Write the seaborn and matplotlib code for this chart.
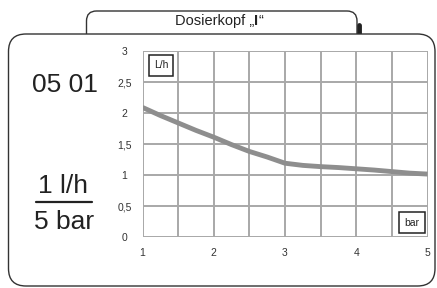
import matplotlib
matplotlib.use("Agg")
import matplotlib.pyplot as plt
import seaborn as sns
import pandas as pd
from matplotlib import font_manager
from matplotlib.patches import FancyBboxPatch, PathPatch
from matplotlib.path import Path
from matplotlib.lines import Line2D

# Data
pressure_bar = [1.0, 1.25, 1.5, 1.75, 2.0, 2.25, 2.5, 2.75, 3.0,
                3.25, 3.5, 3.75, 4.0, 4.25, 4.5, 4.75, 5.0]
flow_lph = [2.09, 1.96, 1.84, 1.72, 1.61, 1.49, 1.38, 1.29, 1.19,
            1.155, 1.135, 1.12, 1.10, 1.08, 1.055, 1.03, 1.015]
x_ticks = [1, 2, 3, 4, 5]
y_ticks = [0, 0.5, 1, 1.5, 2, 2.5, 3]
y_tick_labels = ["0", "0,5", "1", "1,5", "2", "2,5", "3"]
title_pre = "Dosierkopf „"
title_bold = "I"
title_post = "“"
code_label = "05 01"
rate_label = "1 l/h"
press_label = "5 bar"

sns.set_theme(style="white")
plt.rcParams['font.family'] = ['Liberation Sans', 'DejaVu Sans']

# Prefer a narrow face for the big left labels if available
try:
    font_manager.findfont(font_manager.FontProperties(family="Liberation Sans Narrow"),
                          fallback_to_default=False)
    NARROW = ['Liberation Sans Narrow', 'DejaVu Sans']
    lfs = 22
except Exception:
    NARROW = ['Liberation Sans', 'DejaVu Sans']
    lfs = 19

W, H = 437, 288
fig = plt.figure(figsize=(W / 100, H / 100), dpi=100)
fig.patch.set_facecolor("white")

def fx(px):
    return px / W

def fy(py):
    return 1 - py / H

# Tab (behind main box)
tab_l, tab_r, tab_t, tab_b = 86.5, 357, 11, 36
r = 10
verts = [
    (fx(tab_l), fy(tab_b)),
    (fx(tab_l), fy(tab_t + r)),
    (fx(tab_l), fy(tab_t)),
    (fx(tab_l + r), fy(tab_t)),
    (fx(tab_r - r), fy(tab_t)),
    (fx(tab_r), fy(tab_t)),
    (fx(tab_r), fy(tab_t + r)),
    (fx(tab_r), fy(tab_b)),
]
codes = [Path.MOVETO, Path.LINETO, Path.CURVE3, Path.CURVE3, Path.LINETO,
         Path.CURVE3, Path.CURVE3, Path.LINETO]
fig.patches.append(PathPatch(Path(verts, codes), facecolor="white", edgecolor="#333333",
                             linewidth=1.0, transform=fig.transFigure, zorder=1))
fig.lines.append(Line2D([fx(tab_r + 1.5), fx(tab_r + 1.5)], [fy(tab_t + 14), fy(tab_b)],
                        transform=fig.transFigure, color="#222222", linewidth=3.5, zorder=1))

# Main box
bl, br, bt, bb = 8.5, 435, 34, 286
main = FancyBboxPatch((fx(bl), fy(bb)), (br - bl) / W, (bb - bt) / H,
                      boxstyle="round,pad=0,rounding_size=0.04",
                      facecolor="white", edgecolor="#333333", linewidth=1.0,
                      transform=fig.transFigure, zorder=2, mutation_aspect=W / H)
fig.patches.append(main)

# Title pieces placed consecutively
renderer = fig.canvas.get_renderer()
tfs = 10.5
x0 = 175
t1 = fig.text(fx(x0), fy(21), title_pre, fontsize=tfs, ha="left", va="center",
              color="#222222", zorder=5)
w1 = t1.get_window_extent(renderer).width
t2 = fig.text(fx(x0 + w1), fy(21), title_bold, fontsize=tfs, ha="left", va="center",
              color="#222222", fontweight="bold", zorder=5)
w2 = t2.get_window_extent(renderer).width
fig.text(fx(x0 + w1 + w2 + 0.5), fy(21), title_post, fontsize=tfs, ha="left", va="center",
         color="#222222", zorder=5)

# Left labels
fig.text(fx(65), fy(85), code_label, fontsize=lfs, ha="center", va="center",
         color="#222222", zorder=5, family=NARROW)
fig.text(fx(63), fy(186), rate_label, fontsize=lfs, ha="center", va="center",
         color="#222222", zorder=5, family=NARROW)
fig.text(fx(64), fy(222), press_label, fontsize=lfs, ha="center", va="center",
         color="#222222", zorder=5, family=NARROW)
fig.lines.append(Line2D([fx(36), fx(92)], [fy(202), fy(202)], transform=fig.transFigure,
                        color="#222222", linewidth=1.6, zorder=5))

# Chart axes
ax_l, ax_r, ax_t, ax_b = 142.5, 427.5, 51, 237
ax = fig.add_axes([fx(ax_l), fy(ax_b), (ax_r - ax_l) / W, (ax_b - ax_t) / H], zorder=3)
ax.set_facecolor("none")

df = pd.DataFrame({"bar": pressure_bar, "lph": flow_lph})
sns.lineplot(data=df, x="bar", y="lph", ax=ax, color="#8e8e8e", linewidth=3.5,
             solid_capstyle="butt", zorder=4)

ax.set_xlim(1, 5)
ax.set_ylim(0, 3)
ax.set_xticks(x_ticks)
ax.set_xticklabels([str(t) for t in x_ticks])
ax.set_yticks(y_ticks)
ax.set_yticklabels(y_tick_labels, ha="center")
ax.set_xticks([1.5, 2.5, 3.5, 4.5], minor=True)
ax.set_yticks([v / 10 for v in range(31) if v % 5], minor=True)
for xv in [1, 1.5, 2, 2.5, 3, 3.5, 4, 4.5, 5]:
    ax.axvline(xv, color="#a8a8a8", linewidth=1.4, zorder=1)
for yv in y_ticks:
    ax.axhline(yv, color="#a8a8a8", linewidth=1.4, zorder=1)
for s in ax.spines.values():
    s.set_visible(False)
ax.tick_params(axis="both", which="major", labelsize=7.5, colors="#333333",
               length=3, width=1, color="#a8a8a8", direction="out")
ax.tick_params(axis="y", which="major", pad=10)
ax.tick_params(axis="x", which="major", pad=5)
ax.tick_params(axis="both", which="minor", length=2.5, width=0.8, color="#b0b0b0", direction="out")
ax.set_xlabel("")
ax.set_ylabel("")

# Unit boxes
ax.text(0.04, 0.95, "L/h", transform=ax.transAxes, fontsize=7.5, ha="left", va="top",
        color="#222222", zorder=6,
        bbox=dict(boxstyle="square,pad=0.5", facecolor="white", edgecolor="#222222", linewidth=1.1))
ax.text(0.972, 0.05, "bar", transform=ax.transAxes, fontsize=7.5, ha="right", va="bottom",
        color="#222222", zorder=6,
        bbox=dict(boxstyle="square,pad=0.5", facecolor="white", edgecolor="#222222", linewidth=1.1))

fig.savefig("out.png", dpi=100, facecolor="white")
